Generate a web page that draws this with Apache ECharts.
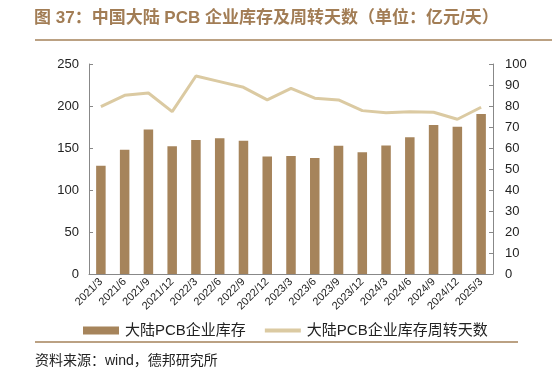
<!DOCTYPE html>
<html><head><meta charset="utf-8">
<script src="https://cdn.jsdelivr.net/npm/echarts@6/dist/echarts.min.js"></script>
<style>html,body{margin:0;padding:0;background:#fff}#c{width:552px;height:383px}</style>
</head><body><div id="c"></div>
<script>
const categories = ['2021/3','2021/6','2021/9','2021/12','2022/3','2022/6','2022/9','2022/12','2023/3','2023/6','2023/9','2023/12','2024/3','2024/6','2024/9','2024/12','2025/3'];
const inventory = [129, 148, 172, 152, 159.5, 161.5, 158.7, 140, 140.5, 138, 152.8, 145, 153, 162.7, 177.4, 175.4, 190.5];
const turnoverDays = [79.7, 85.1, 86.2, 77.3, 94.3, 91.6, 88.9, 82.9, 88.4, 83.7, 82.9, 77.8, 76.8, 77.3, 77, 73.7, 79.4];
const leftTicks = [0, 250, 50];
const rightTicks = [0, 100, 10];
const titleText = '图 37：中国大陆 PCB 企业库存及周转天数（单位：亿元/天）';
const sourceText = '资料来源：wind，德邦研究所';
const seriesNames = ['大陆PCB企业库存', '大陆PCB企业库存周转天数'];

const font = '"Liberation Sans", Arial, "Noto Sans CJK SC", sans-serif';
const chart = echarts.init(document.getElementById('c'), null, {renderer: 'canvas'});
chart.setOption({
  animation: false,
  textStyle: {fontFamily: font},
  title: {
    text: titleText, left: 34, top: 10, padding: 0,
    textStyle: {fontSize: 17, fontWeight: 'bold', color: '#a27d55', fontFamily: font}
  },
  graphic: [
    {type: 'line', shape: {x1: 35, y1: 40, x2: 552, y2: 40}, style: {stroke: '#a5825a', lineWidth: 1.5}},
    {type: 'line', shape: {x1: 35, y1: 342, x2: 518, y2: 342}, style: {stroke: '#a5825a', lineWidth: 1.5}},
    {type: 'text', left: 35, top: 354, style: {text: sourceText, fontSize: 14, fill: '#222', fontFamily: font}}
  ],
  legend: {
    left: 78, top: 318, itemGap: 17, itemWidth: 36, itemHeight: 8,
    textStyle: {fontSize: 15, color: '#222', padding: [0, 0, 0, 1]},
    data: [
      {name: seriesNames[0], icon: 'rect'},
      {name: seriesNames[1], itemStyle: {opacity: 0}, lineStyle: {width: 4}}
    ]
  },
  grid: {left: 89, right: 59, top: 64, bottom: 109, containLabel: false},
  xAxis: {
    type: 'category', data: categories,
    axisLine: {lineStyle: {color: '#888'}},
    axisTick: {inside: true, length: 4, lineStyle: {color: '#888'}},
    axisLabel: {rotate: 45, fontSize: 11, color: '#222', margin: 6, interval: 0}
  },
  yAxis: [
    {type: 'value', min: leftTicks[0], max: leftTicks[1], interval: leftTicks[2],
     axisLine: {show: true, lineStyle: {color: '#888'}},
     axisTick: {show: true, inside: true, length: 4, lineStyle: {color: '#888'}},
     splitLine: {show: false},
     axisLabel: {fontSize: 13, color: '#222', margin: 10}},
    {type: 'value', min: rightTicks[0], max: rightTicks[1], interval: rightTicks[2],
     axisLine: {show: true, lineStyle: {color: '#888'}},
     axisTick: {show: true, inside: true, length: 4, lineStyle: {color: '#888'}},
     splitLine: {show: false},
     axisLabel: {fontSize: 13, color: '#222', margin: 12}}
  ],
  series: [
    {name: seriesNames[0], type: 'bar', data: inventory, barWidth: '40%',
     itemStyle: {color: '#a6845b'}},
    {name: seriesNames[1], type: 'line', yAxisIndex: 1, data: turnoverDays,
     symbol: 'none', lineStyle: {color: '#dbcaa2', width: 3}, itemStyle: {color: '#dbcaa2'}}
  ]
});
</script></body></html>
